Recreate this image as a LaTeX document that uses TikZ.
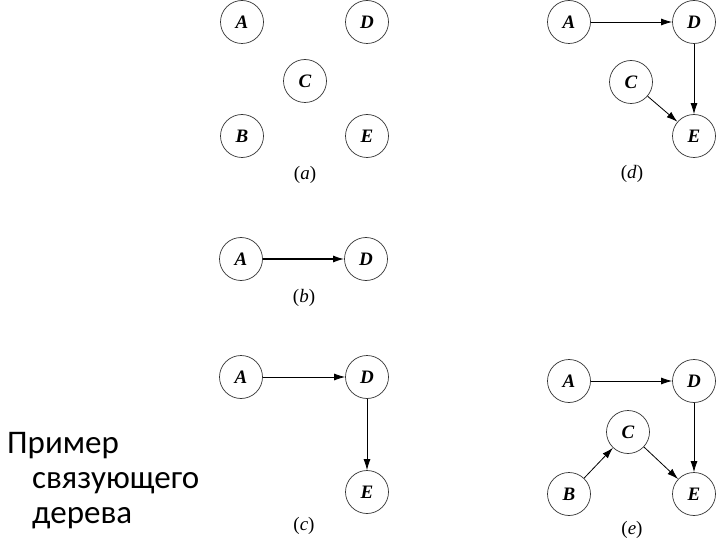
\documentclass[tikz,border=0pt]{standalone}
\usepackage{fontspec}
\setmainfont{Liberation Serif}
\newfontfamily\captionfont{Carlito}
\usetikzlibrary{arrows.meta}
\tikzset{
  vertex/.style={circle, draw=black!80, line width=0.7pt, minimum size=43pt, inner sep=0pt, font=\bfseries\itshape\fontsize{19}{19}\selectfont},
  tag/.style={font=\fontsize{19}{19}\selectfont},
  edge/.style={-{Latex[length=11pt,width=7pt]}, line width=0.8pt, draw=black},
  boldedge/.style={edge, line width=1.5pt},
  note/.style={font=\captionfont\fontsize{33}{35}\selectfont, align=left, anchor=north west, inner sep=0pt},
}
\begin{document}
\begin{tikzpicture}[x=1pt,y=-1pt]
  \useasboundingbox (0,0) rectangle (720,540);

  % (a)
  \node[vertex] (aA) at (242,22) {A};
  \node[vertex] (aD) at (367,22) {D};
  \node[vertex] (aC) at (305,81) {C};
  \node[vertex] (aB) at (242,136) {B};
  \node[vertex] (aE) at (367,136) {E};
  \node[tag] (aT) at (305,175) {(\textit{a})};

  % (d)
  \node[vertex] (dA) at (569,22) {A};
  \node[vertex] (dD) at (694,22) {D};
  \node[vertex] (dC) at (631,82) {C};
  \node[vertex] (dE) at (694,136) {E};
  \node[tag] (dT) at (632,174) {(\textit{d})};
  \draw[edge] (dA) -- (dD);
  \draw[edge] (dD) -- (dE);
  \draw[edge] (dC) -- (dE);

  % (b)
  \node[vertex] (bA) at (241,259) {A};
  \node[vertex] (bD) at (366,259) {D};
  \node[tag] (bT) at (304,298) {(\textit{b})};
  \draw[boldedge] (bA) -- (bD);

  % (c)
  \node[vertex] (cA) at (241,377) {A};
  \node[vertex] (cD) at (367,377) {D};
  \node[vertex] (cE) at (367,492) {E};
  \node[tag] (cT) at (304,526) {(\textit{c})};
  \draw[edge] (cA) -- (cD);
  \draw[edge] (cD) -- (cE);

  % (e)
  \node[vertex] (eA) at (569,381) {A};
  \node[vertex] (eD) at (694,381) {D};
  \node[vertex] (eC) at (628,432) {C};
  \node[vertex] (eB) at (569,494) {B};
  \node[vertex] (eE) at (694,494) {E};
  \node[tag] (eT) at (632,530) {(\textit{e})};
  \draw[edge] (eA) -- (eD);
  \draw[edge] (eD) -- (eE);
  \draw[edge] (eB) -- (eC);
  \draw[edge] (eC) -- (eE);

  \node[note] (cap) at (7,432) {Пример\\\hspace*{25pt}связующего\\\hspace*{25pt}дерева};
\end{tikzpicture}
\end{document}
